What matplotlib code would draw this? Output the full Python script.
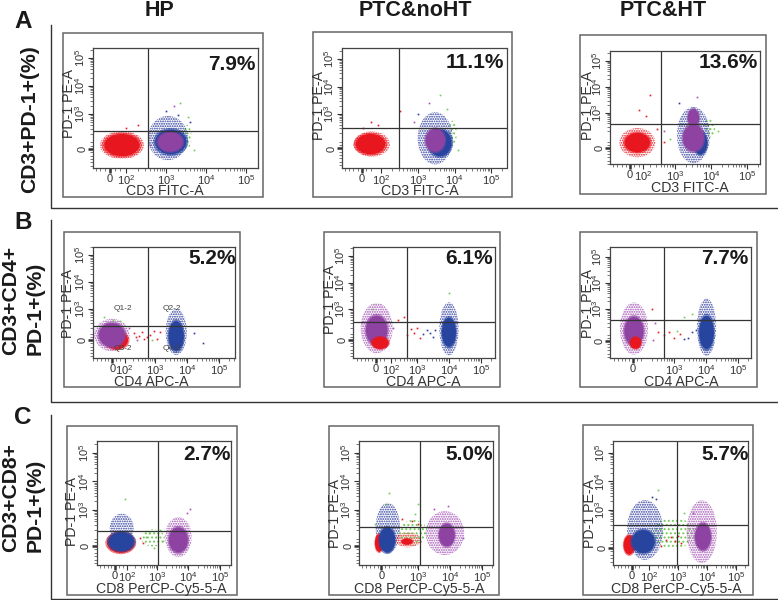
import numpy as np
import matplotlib
matplotlib.use("Agg")
import matplotlib.pyplot as plt
from matplotlib.lines import Line2D
from matplotlib.patches import Ellipse, Rectangle

plt.rcParams['font.family'] = ['Liberation Sans', 'DejaVu Sans']
plt.rcParams['mathtext.fontset'] = 'custom'
plt.rcParams['mathtext.rm'] = 'Liberation Sans'
plt.rcParams['mathtext.default'] = 'regular'
plt.rcParams['hatch.linewidth'] = 0.9

groups = ["HP", "PTC&noHT", "PTC&HT"]
row_letters = ["A", "B", "C"]
x_markers = ["CD3 FITC-A", "CD4 APC-A", "CD8 PerCP-Cy5-5-A"]

# PD-1 positive percentages, rows A-C, columns HP, noHT, HT
percents = [["7.9%", "11.1%", "13.6%"],
            ["5.2%", "6.1%", "7.7%"],
            ["2.7%", "5.0%", "5.7%"]]

# gate positions in decades of the biexponential axes
gate_x = [[2.54, 2.48, 2.61], [2.78, 2.69, 2.69], [3.02, 3.06, 2.95]]
gate_y = [[2.38, 2.51, 2.56], [2.37, 2.51, 2.58], [2.28, 2.39, 2.47]]

# where "0" and "10^2" fall on the x axis, same units (None = no 10^2 label)
zero_x = [[1.60, 1.47, 1.75], [1.66, 1.72, 1.72], [1.67, 1.86, 1.41]]
zero_y = [[1.75, 1.75, 1.65], [1.85, 1.83, 1.77], [1.74, 1.74, 1.67]]
hundred_x = [[2.0, 2.0, 2.1], [2.05, 2.2, None], [2.05, None, 2.0]]

# axis limits
xlims = [[(1.175, 5.29), (0.92, 5.42), (1.19, 5.36)],
         [(1.06, 5.48), (1.00, 5.44), (1.00, 5.41)],
         [(1.08, 5.35), (1.16, 5.34), (0.76, 5.41)]]
ylims = [[(1.07, 5.375), (1.04, 5.42), (1.04, 5.38)],
         [(1.19, 5.31), (1.15, 5.36), (1.12, 5.38)],
         [(1.07, 5.42), (1.07, 5.42), (1.07, 5.42)]]

# populations: centre x, centre y, radius x, radius y, colour
sparse_a_hp = [(3.52, 2.18, .12, .43, 'green'), (3.05, 2.14, .50, .79, 'blue'), (1.90, 1.89, .55, .50, 'red')]
dense_a_hp = [(1.90, 1.89, .50, .45, 'red'), (3.12, 2.00, .44, .50, 'blue'), (3.11, 2.00, .35, .39, 'purple')]
stray_a_hp = [(2.3, 2.6, 'red'), (2.0, 2.5, 'red'), (3.2, 3.3, 'purple'), (3.0, 3.1, 'blue'), (3.3, 2.95, 'blue'),
              (3.35, 3.4, 'green'), (3.55, 2.9, 'green'), (3.7, 1.7, 'green'), (2.6, 1.9, 'purple'), (3.6, 2.7, 'blue')]

sparse_a_no = [(3.95, 2.30, .11, .46, 'green'), (3.47, 2.12, .48, .95, 'blue'), (1.73, 1.91, .50, .46, 'red')]
dense_a_no = [(1.70, 1.91, .46, .42, 'red'), (3.60, 1.95, .36, .55, 'blue'), (3.47, 2.05, .30, .47, 'purple')]
stray_a_no = [(1.7, 2.7, 'red'), (1.9, 2.6, 'red'), (1.5, 2.5, 'red'), (3.0, 3.0, 'blue'), (3.6, 3.7, 'green'),
              (3.8, 3.2, 'green'), (3.3, 3.4, 'purple'), (2.5, 3.1, 'red'), (2.9, 2.7, 'purple'), (4.1, 1.7, 'green')]

sparse_a_ht = [(3.95, 2.42, .16, .36, 'green'), (3.51, 2.15, .46, 1.08, 'blue'), (1.95, 1.86, .50, .56, 'red')]
dense_a_ht = [(1.95, 1.86, .40, .42, 'red'), (3.70, 1.85, .22, .50, 'blue'), (3.51, 2.04, .33, .58, 'purple'),
              (3.51, 2.80, .18, .40, 'purple')]
stray_a_ht = [(2.3, 3.7, 'red'), (2.0, 3.1, 'red'), (2.2, 2.9, 'red'), (2.5, 2.4, 'red'), (2.7, 1.9, 'red'),
              (3.1, 3.4, 'blue'), (3.6, 3.6, 'purple'), (4.2, 2.3, 'green'), (2.85, 2.0, 'green'), (2.7, 2.3, 'purple')]

sparse_b_hp = [(3.66, 2.15, .33, .85, 'blue'), (1.65, 2.04, .55, .60, 'purple')]
dense_b_hp = [(1.80, 1.85, .40, .38, 'red'), (1.65, 2.04, .46, .50, 'purple'), (3.66, 2.00, .27, .62, 'blue')]
stray_b_hp = [(2.35, 2.1, 'red'), (2.5, 2.0, 'red'), (2.6, 2.15, 'red'), (2.75, 1.95, 'red'), (2.85, 2.05, 'red'),
              (2.95, 2.2, 'red'), (3.05, 1.9, 'red'), (2.45, 1.85, 'purple'), (2.9, 1.85, 'green'), (3.15, 2.15, 'red'),
              (2.2, 2.3, 'purple'), (2.4, 1.95, 'red'), (2.65, 1.9, 'red'), (4.5, 1.75, 'blue'), (4.2, 2.1, 'blue'),
              (1.4, 2.7, 'green'), (1.7, 2.6, 'green'), (1.9, 2.55, 'green')]

sparse_b_no = [(4.00, 2.25, .30, 1.00, 'blue'), (1.74, 2.28, .50, .95, 'purple')]
dense_b_no = [(1.74, 2.20, .38, .62, 'purple'), (1.85, 1.72, .30, .26, 'red'), (4.00, 2.12, .25, .62, 'blue')]
stray_b_no = [(2.7, 2.0, 'red'), (2.9, 2.1, 'red'), (3.0, 2.3, 'red'), (2.8, 2.25, 'red'), (3.1, 1.9, 'red'),
              (3.3, 2.2, 'blue'), (3.4, 2.1, 'blue'), (3.5, 1.95, 'blue'), (3.55, 2.2, 'blue'), (3.2, 2.05, 'blue'),
              (2.4, 2.6, 'red'), (2.6, 2.7, 'red'), (4.0, 3.6, 'green'), (1.6, 3.0, 'green'), (2.25, 2.3, 'purple')]

sparse_b_ht = [(4.02, 2.30, .30, 1.10, 'blue'), (1.75, 2.25, .44, 1.00, 'purple')]
dense_b_ht = [(1.75, 2.15, .34, .62, 'purple'), (1.80, 1.70, .20, .26, 'red'), (4.02, 2.10, .26, .72, 'blue')]
stray_b_ht = [(2.5, 2.1, 'red'), (2.7, 2.0, 'red'), (2.85, 2.1, 'red'), (3.0, 1.9, 'red'), (3.1, 2.15, 'green'),
              (3.2, 2.05, 'red'), (3.3, 1.85, 'blue'), (3.45, 1.9, 'blue'), (3.55, 2.1, 'blue'), (3.7, 2.2, 'blue'),
              (3.3, 2.7, 'green'), (3.55, 2.8, 'green'), (2.4, 2.45, 'purple'), (2.3, 3.0, 'red'), (2.35, 1.8, 'purple')]

sparse_c_hp = [(2.87, 2.02, .38, .30, 'green'), (3.68, 2.05, .42, .70, 'purple'), (1.88, 2.37, .38, .50, 'blue')]
dense_c_hp = [(1.85, 1.85, .49, .40, 'red'), (1.87, 1.89, .46, .38, 'blue'), (3.68, 1.95, .34, .50, 'purple')]
stray_c_hp = [(2.45, 2.0, 'red'), (2.55, 1.85, 'red'), (2.65, 2.05, 'green'), (2.75, 2.2, 'green'), (3.1, 2.3, 'green'),
              (3.2, 1.9, 'green'), (2.0, 3.4, 'green'), (4.05, 3.05, 'purple'), (3.95, 2.9, 'purple'), (2.9, 1.65, 'green')]

sparse_c_no = [(3.84, 2.19, .60, .77, 'purple'), (2.06, 2.37, .38, .88, 'blue'), (2.69, 1.95, .40, .26, 'red'),
               (2.85, 2.2, .45, .45, 'green')]
dense_c_no = [(1.79, 1.84, .15, .35, 'red'), (2.04, 1.95, .28, .50, 'blue'), (2.66, 1.89, .20, .12, 'red'),
              (3.90, 2.12, .28, .45, 'purple')]
stray_c_no = [(2.5, 2.7, 'red'), (2.8, 2.6, 'red'), (3.0, 2.5, 'red'), (2.9, 2.85, 'green'), (2.1, 3.6, 'green'),
              (2.0, 3.2, 'green'), (3.0, 3.2, 'green'), (3.5, 3.05, 'purple'), (4.4, 2.0, 'purple'), (1.65, 2.5, 'green'),
              (3.95, 3.15, 'purple')]

sparse_c_ht = [(2.83, 2.19, .76, .53, 'green'), (3.82, 2.24, .52, 1.10, 'purple'), (1.86, 2.30, .62, 1.05, 'blue')]
dense_c_ht = [(1.32, 1.77, .22, .38, 'red'), (1.80, 1.89, .45, .46, 'blue'), (3.86, 2.06, .31, .53, 'purple')]
stray_c_ht = [(2.6, 1.95, 'red'), (2.75, 2.05, 'red'), (2.9, 1.9, 'red'), (3.0, 2.1, 'red'), (3.1, 1.85, 'red'),
              (2.4, 1.75, 'red'), (2.3, 3.7, 'green'), (2.25, 3.4, 'blue'), (2.1, 3.45, 'blue'), (3.5, 2.9, 'purple'),
              (3.2, 2.9, 'green')]

panel_sparse = [[sparse_a_hp, sparse_a_no, sparse_a_ht], [sparse_b_hp, sparse_b_no, sparse_b_ht], [sparse_c_hp, sparse_c_no, sparse_c_ht]]
panel_dense = [[dense_a_hp, dense_a_no, dense_a_ht], [dense_b_hp, dense_b_no, dense_b_ht], [dense_c_hp, dense_c_no, dense_c_ht]]
panel_stray = [[stray_a_hp, stray_a_no, stray_a_ht], [stray_b_hp, stray_b_no, stray_b_ht], [stray_c_hp, stray_c_no, stray_c_ht]]

colors = {'red': '#e8161f', 'blue': '#27449f', 'purple': '#8e43a3', 'green': '#63c04c'}
speck = {'red': '#e8161f', 'blue': '#2b3a9c', 'purple': '#a250b4', 'green': '#6fca55'}
sparse_hatch = {'red': '.......', 'blue': '.......', 'purple': '.......', 'green': '....'}

# layout in pixels: outer box, inner plot, axis label centres, percent centre
W, H = 778, 600
outer = [[(63, 32.5, 262.5, 197), (312.5, 32, 512, 197), (580, 35.5, 766, 194)],
         [(63.5, 231.5, 240, 387), (323.5, 231.5, 500, 387), (580, 231.5, 757, 387)],
         [(66.5, 425.5, 236.5, 595), (329, 425.5, 499, 595), (583, 425, 753, 595)]]
inner = [[(93, 47.5, 257.5, 168), (342, 47.5, 506.5, 168), (610, 51, 760, 164)],
         [(93, 246.5, 234.5, 358), (353, 246.5, 495, 358), (610, 247, 751, 358)],
         [(96.5, 441, 231, 565), (359, 441, 493, 565), (613, 441, 748, 565)]]
xlabel_pos = [[(165, 191), (420, 191), (690, 188.5)],
              [(151.5, 382), (423, 382), (681, 382)],
              [(161, 589), (419, 589), (676, 589)]]
ylabel_pos = [[(69, 104), (319, 106), (588, 106)],
              [(68, 303), (330, 299), (588, 303)],
              [(72, 512), (335, 513), (590, 513)]]
pct_pos = [[(232, 64), (475, 63), (728, 63)],
           [(212, 259), (469, 259), (725, 259)],
           [(207, 455), (469, 455), (725, 455)]]


def fx(px):
    return px / W


def fy(py):
    return 1 - py / H


def minor_positions(zero, lim):
    decades = [d + np.log10(m) for d in (2, 3, 4, 5) for m in range(2, 10)]
    around_zero = [zero + k * 0.12 for k in range(-5, 3) if k != 0]
    return [p for p in decades + around_zero if lim[0] <= p <= lim[1]]


fig = plt.figure(figsize=(7.78, 6.0), dpi=100)

for r in range(3):
    for c in range(3):
        x0, y0, x1, y1 = outer[r][c]
        fig.add_artist(Rectangle((fx(x0), fy(y1)), (x1 - x0) / W, (y1 - y0) / H, fill=False,
                                 ec='#666666', lw=1.1, transform=fig.transFigure))

        x0, y0, x1, y1 = inner[r][c]
        ax = fig.add_axes([fx(x0), fy(y1), (x1 - x0) / W, (y1 - y0) / H])
        for s in ax.spines.values():
            s.set_color('#444444')
            s.set_linewidth(0.9)

        for (cx, cy, rx, ry, name) in panel_sparse[r][c]:
            ax.add_patch(Ellipse((cx, cy), 2 * rx, 2 * ry, fc='none', ec=speck[name], lw=0, hatch=sparse_hatch[name]))
        # dense clouds: stippled rim with a solid middle
        for (cx, cy, rx, ry, name) in panel_dense[r][c]:
            ax.add_patch(Ellipse((cx, cy), 2 * rx, 2 * ry, fc='none', ec=colors[name], lw=0, hatch='...........'))
            ax.add_patch(Ellipse((cx, cy), 1.76 * rx, 1.76 * ry, fc=colors[name], ec='none', lw=0))
        for (sx, sy, name) in panel_stray[r][c]:
            ax.plot(sx, sy, 's', ms=1.2, mew=0, color=speck[name])

        ax.axvline(gate_x[r][c], color='#333333', lw=0.9)
        ax.axhline(gate_y[r][c], color='#333333', lw=0.9)

        xt = [zero_x[r][c]]
        xl = ['0']
        if hundred_x[r][c] is not None:
            xt.append(hundred_x[r][c])
            xl.append('$10^2$')
        xt += [3, 4, 5]
        xl += ['$10^3$', '$10^4$', '$10^5$']
        ax.set_xticks(xt)
        ax.set_xticklabels(xl)
        ax.set_yticks([zero_y[r][c], 3, 4, 5])
        ax.set_yticklabels(['0', '$10^3$', '$10^4$', '$10^5$'], rotation=90, va='center')
        ax.set_xticks(minor_positions(zero_x[r][c], xlims[r][c]), minor=True)
        ax.set_yticks(minor_positions(zero_y[r][c], ylims[r][c]), minor=True)
        ax.tick_params(which='major', length=3.5, width=0.8, color='#333333', labelsize=8,
                       labelcolor='#333333', pad=0.5)
        ax.tick_params(which='minor', length=2, width=0.5, color='#444444')
        ax.xaxis.get_major_ticks()[0].tick1line.set_markeredgewidth(1.8)
        ax.yaxis.get_major_ticks()[0].tick1line.set_markeredgewidth(1.8)
        # ticks widen the view, so the limits go last
        ax.set_xlim(xlims[r][c])
        ax.set_ylim(ylims[r][c])

        fig.text(fx(xlabel_pos[r][c][0]), fy(xlabel_pos[r][c][1]), x_markers[r], fontsize=10.2,
                 color='#333333', ha='center', va='center')
        fig.text(fx(ylabel_pos[r][c][0]), fy(ylabel_pos[r][c][1]), 'PD-1 PE-A', fontsize=10.2,
                 color='#333333', rotation=90, ha='center', va='center')
        fig.text(fx(pct_pos[r][c][0]), fy(pct_pos[r][c][1]), percents[r][c], fontsize=15,
                 fontweight='bold', color='#1a1a1a', ha='center', va='center')

# column titles
for name, px in zip(groups, [160, 415, 663]):
    fig.text(fx(px), fy(10), name, fontsize=15.5, fontweight='bold', color='#1a1a1a', ha='center', va='center')

# row letters and row labels
for letter, py in zip(row_letters, [22, 223, 417]):
    fig.text(fx(23), fy(py), letter, fontsize=17.5, fontweight='bold', color='#1a1a1a', ha='center', va='center')

fig.text(fx(30), fy(119), 'CD3+PD-1+(%)', fontsize=15.2, fontweight='bold', color='#1a1a1a',
         rotation=90, ha='center', va='center')
fig.text(fx(11), fy(355), 'CD3+CD4+', fontsize=15.2, fontweight='bold', color='#1a1a1a',
         rotation=90, ha='center', va='bottom')
fig.text(fx(35), fy(355), 'PD-1+(%)', fontsize=15.2, fontweight='bold', color='#1a1a1a',
         rotation=90, ha='center', va='bottom')
fig.text(fx(11), fy(552), 'CD3+CD8+', fontsize=15.2, fontweight='bold', color='#1a1a1a',
         rotation=90, ha='center', va='bottom')
fig.text(fx(35), fy(552), 'PD-1+(%)', fontsize=15.2, fontweight='bold', color='#1a1a1a',
         rotation=90, ha='center', va='bottom')

# frame lines around each row
for top, bottom in [(25, 208.5), (220, 401.5), (415, 598.5)]:
    fig.add_artist(Line2D([fx(50.5), fx(50.5), 1], [fy(top), fy(bottom), fy(bottom)], color='#333333', lw=1.0))

# quadrant names only shown on the B HP plot
for txt, px, py in [('Q1-2', 123, 308), ('Q2-2', 172, 308), ('Q3-2', 123, 348), ('Q4-2', 172, 348)]:
    fig.text(fx(px), fy(py), txt, fontsize=6, color='#444444', ha='center', va='center')

fig.savefig('out.png', dpi=100)
